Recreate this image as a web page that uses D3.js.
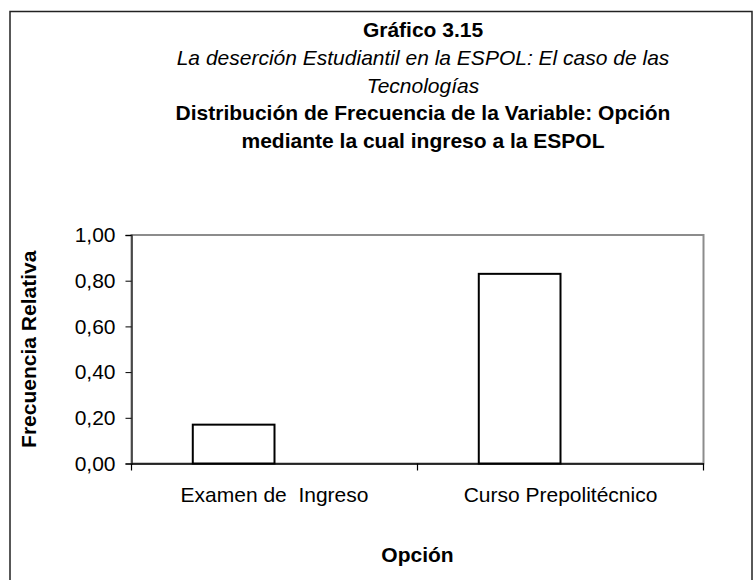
<!DOCTYPE html>
<html>
<head>
<meta charset="utf-8">
<script src="https://cdn.jsdelivr.net/npm/d3@7"></script>
<style>
  html, body { margin: 0; padding: 0; background: #fff; }
  svg { display: block; font-family: "Liberation Sans", Arial, sans-serif; }
</style>
</head>
<body>
<svg id="chart" width="755" height="580"></svg>
<script>
// ---- data ----
const categories = ["Examen de  Ingreso", "Curso Prepolitécnico"];
const values = [0.17, 0.83];
const yTicks = [0, 0.2, 0.4, 0.6, 0.8, 1.0];
const titleLines = [
  { text: "Gráfico 3.15", weight: "bold", style: "normal" },
  { text: "La deserción Estudiantil en la ESPOL: El caso de las", weight: "normal", style: "italic" },
  { text: "Tecnologías", weight: "normal", style: "italic" },
  { text: "Distribución de Frecuencia de la Variable: Opción", weight: "bold", style: "normal" },
  { text: "mediante la cual ingreso a la ESPOL", weight: "bold", style: "normal" }
];
const yLabel = "Frecuencia Relativa";
const xLabel = "Opción";

// ---- layout ----
const svg = d3.select("#chart");
const plot = { left: 131.5, right: 703.5, top: 235, bottom: 463.5 };
const fs = 21;

// outer frame
svg.append("rect")
  .attr("x", 10).attr("y", 11.5).attr("width", 742).attr("height", 600)
  .attr("fill", "none").attr("stroke", "#222").attr("stroke-width", 1.5);

// titles
const tg = svg.append("g");
titleLines.forEach((l, i) => {
  tg.append("text")
    .attr("x", 423).attr("y", 37 + i * 27.8)
    .attr("text-anchor", "middle")
    .attr("font-size", fs)
    .attr("font-weight", l.weight)
    .attr("font-style", l.style)
    .attr("fill", "#000")
    .text(l.text);
});

// scales
const x = d3.scaleBand().domain(categories).range([plot.left, plot.right]).padding(0);
const y = d3.scaleLinear().domain([0, 1]).range([plot.bottom, plot.top]);

// plot area border (gray)
svg.append("rect")
  .attr("x", plot.left).attr("y", plot.top)
  .attr("width", plot.right - plot.left).attr("height", plot.bottom - plot.top)
  .attr("fill", "#fff").attr("stroke", "#8c8c8c").attr("stroke-width", 2);

// bars (Excel style: 2-series slot, gap width 150%)
const bw = x.bandwidth();
const barW = bw / 3.5;
svg.append("g").selectAll("rect")
  .data(categories.map((c, i) => ({ c, v: values[i] })))
  .join("rect")
  .attr("x", d => x(d.c) + bw / 2 - barW)
  .attr("y", d => y(d.v))
  .attr("width", barW)
  .attr("height", d => y(0) - y(d.v))
  .attr("fill", "#fff")
  .attr("stroke", "#000")
  .attr("stroke-width", 2);

// y axis
const fmt = v => d3.format(".2f")(v).replace(".", ",");
const yAxis = svg.append("g")
  .attr("transform", `translate(${plot.left},0)`)
  .call(d3.axisLeft(y).tickValues(yTicks).tickFormat(fmt).tickSize(6).tickPadding(10));
yAxis.select(".domain").attr("stroke", "#333").attr("stroke-width", 1.5);
yAxis.selectAll(".tick line").attr("stroke", "#000");
yAxis.selectAll("text").attr("font-size", fs).attr("fill", "#000")
  .attr("font-family", "Liberation Sans, Arial, sans-serif");

// x axis
const xAxis = svg.append("g")
  .attr("transform", `translate(0,${plot.bottom})`)
  .call(d3.axisBottom(x).tickSize(0).tickPadding(24));
xAxis.select(".domain").attr("stroke", "#000").attr("stroke-width", 1.5);
xAxis.selectAll("text").attr("font-size", fs).attr("fill", "#000")
  .attr("font-family", "Liberation Sans, Arial, sans-serif")
  .style("white-space", "pre");
// category separator ticks
const sepTicks = [plot.left, ...categories.map(c => x(c) + bw)];
svg.append("g").selectAll("line")
  .data(sepTicks)
  .join("line")
  .attr("x1", d => d).attr("x2", d => d)
  .attr("y1", plot.bottom).attr("y2", plot.bottom + 7)
  .attr("stroke", "#000").attr("stroke-width", 1.2);

// axis titles
svg.append("text")
  .attr("transform", `translate(36,${(plot.top + plot.bottom) / 2}) rotate(-90)`)
  .attr("text-anchor", "middle")
  .attr("font-size", fs).attr("font-weight", "bold").attr("fill", "#000")
  .text(yLabel);
svg.append("text")
  .attr("x", (plot.left + plot.right) / 2).attr("y", 562)
  .attr("text-anchor", "middle")
  .attr("font-size", fs).attr("font-weight", "bold").attr("fill", "#000")
  .text(xLabel);
</script>
</body>
</html>
